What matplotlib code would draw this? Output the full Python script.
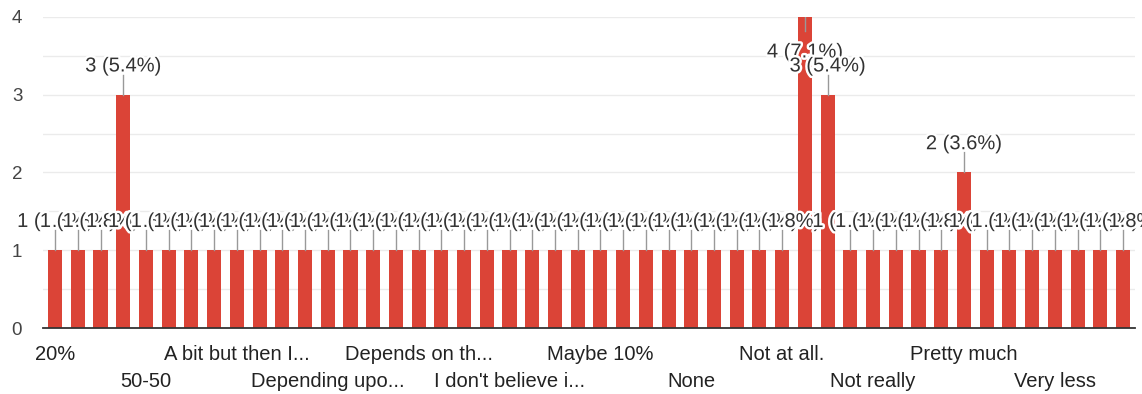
import matplotlib.pyplot as plt
import matplotlib.patheffects as pe
from matplotlib.ticker import MultipleLocator

plt.rcParams['font.family'] = ['Liberation Sans', 'DejaVu Sans']

# response counts per answer (alphabetical order), 56 responses in total
counts = [1, 1, 1, 3, 1, 1, 1, 1, 1, 1, 1, 1, 1, 1, 1, 1,
          1, 1, 1, 1, 1, 1, 1, 1, 1, 1, 1, 1, 1, 1, 1, 1,
          1, 4, 3, 1, 1, 1, 1, 1, 2, 1, 1, 1, 1, 1, 1, 1]
total = 56

# only every 4th answer gets a visible axis label
label_idx = [0, 4, 8, 12, 16, 20, 24, 28, 32, 36, 40, 44]
labels = ["20%", "50-50", "A bit but then I...", "Depending upo...",
          "Depends on th...", "I don't believe i...", "Maybe 10%", "None",
          "Not at all.", "Not really", "Pretty much", "Very less"]

red = '#db4437'
ymax = 4
fs = 14.5

fig = plt.figure(figsize=(11.42, 3.94), dpi=100)
ax = fig.add_axes([0.0377, 0.1675, 0.9562, 0.7894])

x = list(range(len(counts)))
ax.bar(x, counts, width=0.62, color=red, zorder=2)

ax.set_xlim(-0.53, len(counts) - 0.47)
ax.set_ylim(0, ymax)
ax.yaxis.set_major_locator(MultipleLocator(1))
ax.yaxis.set_minor_locator(MultipleLocator(0.5))
ax.grid(axis='y', which='both', color='#ebebeb', linewidth=1, zorder=0)
ax.set_axisbelow(True)

for s in ['top', 'right', 'left']:
    ax.spines[s].set_visible(False)
ax.spines['bottom'].set_color('#333333')
ax.spines['bottom'].set_linewidth(1.3)
ax.spines['bottom'].set_zorder(5)

ax.tick_params(axis='y', length=0, pad=15, labelsize=13.5, labelcolor='#444444')
ax.tick_params(axis='x', length=0, labelsize=fs, labelcolor='#222222')
ax.tick_params(axis='y', which='minor', length=0)

ax.set_xticks(label_idx)
ax.set_xticklabels(labels)
for i, t in enumerate(ax.xaxis.get_major_ticks()):
    t.set_pad(12 if i % 2 == 0 else 32)

# value annotations with leader lines
halo = [pe.withStroke(linewidth=3.5, foreground='white')]
for xi, c in zip(x, counts):
    txt = f"{c} ({c / total * 100:.1f}%)"
    if c + 0.45 > ymax:
        ax.plot([xi, xi], [c, c - 0.18], color='#999999', lw=1, zorder=3)
        ty = c - 0.45
    else:
        ax.plot([xi, xi], [c, c + 0.26], color='#999999', lw=1, zorder=3)
        ty = c + 0.37
    ax.text(xi, ty, txt, ha='center', va='center', fontsize=fs,
            color='#333333', path_effects=halo, zorder=4)

fig.savefig('out.png', dpi=100)
